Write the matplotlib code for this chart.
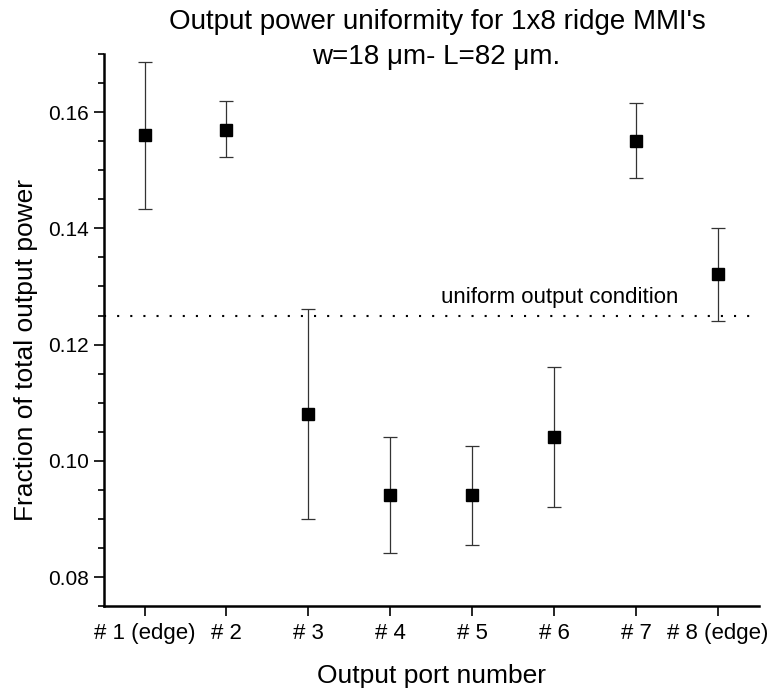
import numpy as np
import matplotlib.pyplot as plt
from matplotlib.ticker import MultipleLocator

plt.rcParams['font.family'] = ['Liberation Sans', 'DejaVu Sans']

ports = [1, 2, 3, 4, 5, 6, 7, 8]
port_labels = ['# 1 (edge)', '# 2', '# 3', '# 4', '# 5', '# 6', '# 7', '# 8 (edge)']
fraction = [0.1560, 0.1570, 0.1080, 0.0941, 0.0941, 0.1041, 0.1551, 0.1321]
err_low = [0.1433, 0.1523, 0.0900, 0.0841, 0.0855, 0.0921, 0.1486, 0.1241]
err_high = [0.1687, 0.1619, 0.1261, 0.1041, 0.1026, 0.1161, 0.1616, 0.1401]
uniform = 1 / 8

fraction = np.array(fraction)
yerr = [fraction - np.array(err_low), np.array(err_high) - fraction]

fig = plt.figure(figsize=(7.73, 6.92), dpi=100)
ax = fig.add_axes([0.134, 0.124, 0.848, 0.798])

ax.axhline(uniform, color='black', linestyle=(0, (1, 5.3)), linewidth=1.5)
ax.text(6.07, uniform + 0.0013, 'uniform output condition', ha='center',
        va='bottom', fontsize=16)

ax.errorbar(ports, fraction, yerr=yerr, fmt='s', color='black', markersize=8,
            ecolor='#333333', elinewidth=0.9, capsize=5, capthick=0.9)

ax.set_xlim(0.5, 8.5)
ax.set_ylim(0.075, 0.170)
ax.set_xticks(ports)
ax.set_xticklabels(port_labels, fontsize=16)
ax.yaxis.set_major_locator(MultipleLocator(0.02))
ax.yaxis.set_minor_locator(MultipleLocator(0.005))
ax.yaxis.set_major_formatter(plt.FormatStrFormatter('%.2f'))
ax.tick_params(axis='y', which='major', length=7, width=1.2, labelsize=15)
ax.tick_params(axis='y', which='minor', length=4, width=1.2)
ax.tick_params(axis='x', length=7, width=1.2, pad=5)

for side in ['top', 'right']:
    ax.spines[side].set_visible(False)
for side in ['left', 'bottom']:
    ax.spines[side].set_linewidth(1.8)

ax.set_xlabel('Output port number', fontsize=19)
ax.xaxis.set_label_coords(0.5, -0.105)
ax.set_ylabel('Fraction of total output power', fontsize=19)
ax.yaxis.set_label_coords(-0.1, 0.464)

fig.text(0.566, 0.968, "Output power uniformity for 1x8 ridge MMI's",
         ha='center', va='center', fontsize=20)
fig.text(0.564, 0.918, "w=18 μm- L=82 μm.",
         ha='center', va='center', fontsize=20)

fig.savefig('out.png', dpi=100, facecolor='white')
